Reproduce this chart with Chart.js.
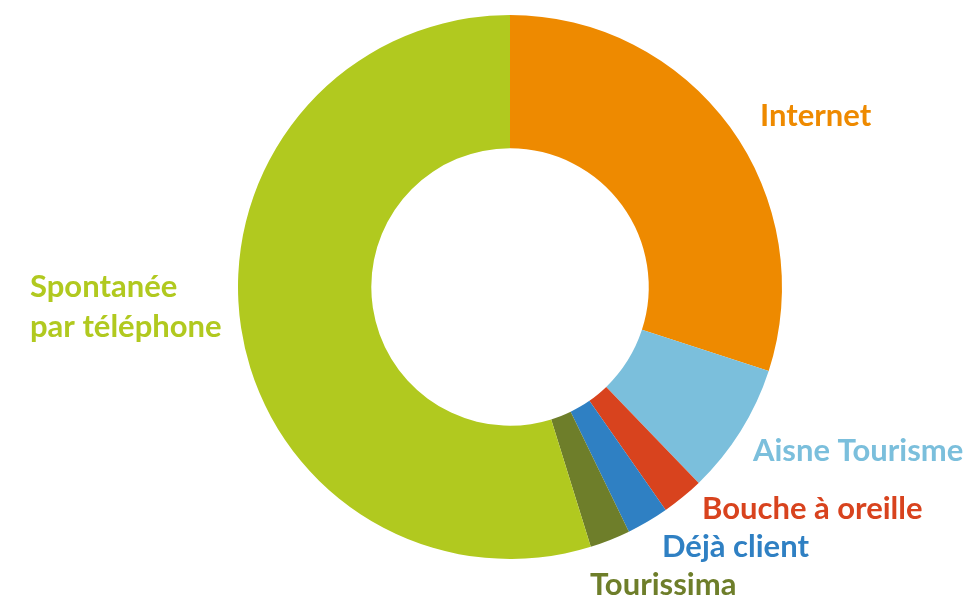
<!DOCTYPE html>
<html>
<head>
<meta charset="utf-8">
<script src="https://cdn.jsdelivr.net/npm/chart.js@4/dist/chart.umd.min.js"></script>
<style>
  html, body { margin: 0; padding: 0; background: #fff; }
  #wrap { width: 972px; height: 603px; }
</style>
</head>
<body>
<div id="wrap"><canvas id="donut"></canvas></div>
<script>
var categories = ["Internet", "Aisne Tourisme", "Bouche à oreille", "Déjà client", "Tourissima", "Spontanée par téléphone"];
var values = [30, 7.8, 2.5, 2.5, 2.4, 54.8];
var colours = ["#ee8a00", "#7bbfdc", "#d8431e", "#2f80c3", "#6e7e2a", "#b1c91f"];

// where each label goes (left edge, vertical middle), text split on lines
var labelSpots = [
  { x: 760, y: 116, lines: ["Internet"] },
  { x: 753, y: 451, lines: ["Aisne Tourisme"] },
  { x: 702, y: 509, lines: ["Bouche à oreille"] },
  { x: 662, y: 547, lines: ["Déjà client"] },
  { x: 590, y: 585, lines: ["Tourissima"] },
  { x: 30, y: 287, lines: ["Spontanée", "par téléphone"] }
];

var labelPlugin = {
  id: 'sliceLabels',
  afterDraw: function (chart) {
    var ctx = chart.ctx;
    ctx.save();
    ctx.font = 'bold 31px Lato';
    ctx.textAlign = 'left';
    ctx.textBaseline = 'middle';
    labelSpots.forEach(function (spot, i) {
      ctx.fillStyle = colours[i];
      spot.lines.forEach(function (line, j) {
        ctx.fillText(line, spot.x, spot.y + j * 40);
      });
    });
    ctx.restore();
  }
};

var ctx = document.getElementById('donut').getContext('2d');
var chart = new Chart(ctx, {
  type: 'doughnut',
  data: {
    labels: categories,
    datasets: [{
      data: values,
      backgroundColor: colours,
      borderWidth: 0
    }]
  },
  options: {
    responsive: true,
    maintainAspectRatio: false,
    animation: false,
    cutout: '51%',
    layout: { padding: { top: 15, bottom: 44, left: 238, right: 190 } },
    plugins: {
      legend: { display: false },
      tooltip: { enabled: false }
    }
  },
  plugins: [labelPlugin]
});
</script>
</body>
</html>
